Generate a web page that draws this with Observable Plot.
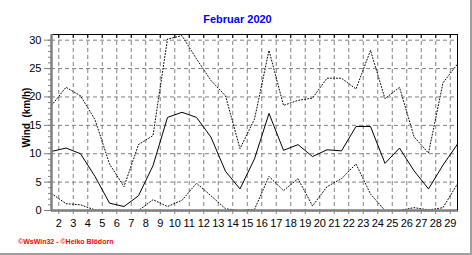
<!DOCTYPE html>
<html><head><meta charset="utf-8">
<script src="https://cdn.jsdelivr.net/npm/d3@7"></script>
<script src="https://cdn.jsdelivr.net/npm/@observablehq/plot@0.6"></script>
<style>
html,body{margin:0;padding:0;background:#fff;}
#chart{position:relative;width:472px;height:255px;overflow:hidden;background:#fff;}
#chart svg{position:absolute;left:0;top:0;}
.edge{position:absolute;background:#a0a0a0;}
</style></head><body><div id="chart"></div>
<script>
const days = [1,2,3,4,5,6,7,8,9,10,11,12,13,14,15,16,17,18,19,20,21,22,23,24,25,26,27,28,29];
const windMax = [18.5,21.7,20.2,16.0,8.2,4.2,11.6,13.2,30.2,30.8,26.7,22.9,20.2,10.9,16.1,28.2,18.5,19.4,19.8,23.3,23.3,21.4,28.2,19.7,21.7,13.0,10.1,22.5,25.8];
const windMean = [10.4,11.0,10.0,6.0,1.3,0.7,2.6,7.9,16.4,17.3,16.4,12.9,6.9,3.8,9.1,17.1,10.6,11.6,9.5,10.7,10.5,14.8,14.8,8.3,11.0,7.0,3.8,8.0,11.7];
const windMin = [3.0,1.2,1.0,0.1,0,0,0,1.9,0.7,1.8,4.8,2.6,0.3,0,0.2,6.0,3.5,5.6,0.8,4.2,5.6,8.2,2.9,0,0,0.5,0.1,0.5,4.7];
const xTickLabels = ["2","3","4","5","6","7","8","9","10","11","12","13","14","15","16","17","18","19","20","21","22","23","24","25","26","27","28","29"];
const yTickValues = [0,5,10,15,20,25,30];
const titleText = "Februar 2020";
const yLabelText = "Wind  (km/h)";
const creditText = "\u00A9WsWin32 - \u00A9Heiko Bl\u00F6dorn";

const rows = days.map((d, i) => ({day: d, max: windMax[i], mean: windMean[i], min: windMin[i]}));
const xGridPos = xTickLabels.map(s => +s - 0.5);
const xMinor = d3.range(1, 29.001, 0.25);
const yMinor = d3.range(0, 31, 1);
const yGrid = yTickValues.filter(v => v > 0);
const gray = "#808080";
const blank = () => "";

const svg = Plot.plot({
  width: 472, height: 255,
  marginLeft: 51, marginRight: 15, marginTop: 34, marginBottom: 45,
  style: {fontFamily: "'Liberation Sans', Arial, sans-serif", fontSize: "11px", background: "white", color: "black"},
  x: {domain: [1, 29]},
  y: {domain: [0, 31]},
  marks: [
    Plot.gridX(xGridPos, {stroke: gray, strokeOpacity: 1, strokeDasharray: "4,3"}),
    Plot.gridY(yGrid, {stroke: gray, strokeOpacity: 1, strokeDasharray: "4,3"}),
    Plot.line(rows, {x: "day", y: "max", stroke: "black", strokeWidth: 1, strokeDasharray: "1,2"}),
    Plot.line(rows, {x: "day", y: "min", stroke: "black", strokeWidth: 1, strokeDasharray: "1,2"}),
    Plot.line(rows, {x: "day", y: "mean", stroke: "black", strokeWidth: 1}),
    Plot.axisX(xMinor, {tickSize: 2, tickFormat: blank, label: null, stroke: gray}),
    Plot.axisX(xGridPos, {tickSize: 4, tickPadding: 5, tickFormat: d => String(d + 0.5), label: null, stroke: gray}),
    Plot.axisX(xGridPos, {anchor: "top", tickSize: -3, tickFormat: blank, label: null, stroke: "black"}),
    Plot.axisY(yMinor, {tickSize: 3, tickFormat: blank, label: null, stroke: gray}),
    Plot.axisY(yTickValues, {tickSize: 7, tickPadding: 3, label: null, stroke: gray}),
    Plot.ruleY([31], {stroke: "black"}),
    Plot.ruleX([29], {stroke: "black"}),
    Plot.ruleX([1], {stroke: gray, strokeWidth: 2.5}),
    Plot.ruleY([0], {stroke: gray, strokeWidth: 2.5})
  ]
});

const s = d3.select(svg);
s.append("text").attr("x", 237.5).attr("y", 23.3).attr("text-anchor", "middle")
  .attr("fill", "#0000ff").attr("font-weight", "bold").attr("font-size", 11).text(titleText);
s.append("text").attr("transform", "translate(30,117.5) rotate(-90)").attr("text-anchor", "middle")
  .attr("fill", "black").attr("font-weight", "bold").attr("font-size", 10).style("white-space", "pre").text(yLabelText);
s.append("text").attr("x", 18).attr("y", 243.5).attr("text-anchor", "start").attr("fill", "#ff0000")
  .attr("font-weight", "bold").attr("font-size", 7).text(creditText);

const chart = document.getElementById("chart");
chart.appendChild(svg);
const r = document.createElement("div"); r.className = "edge";
r.style.cssText = "right:0;top:0;width:2px;height:255px;";
const b = document.createElement("div"); b.className = "edge";
b.style.cssText = "left:0;bottom:0;width:472px;height:2px;";
chart.appendChild(r); chart.appendChild(b);
</script></body></html>
